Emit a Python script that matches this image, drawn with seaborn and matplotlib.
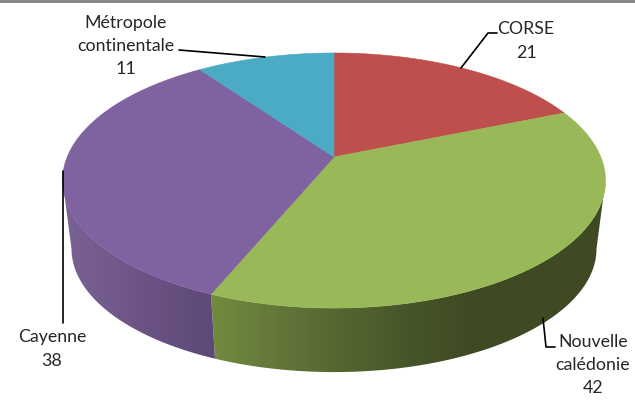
import numpy as np
import matplotlib
matplotlib.use("Agg")
import matplotlib.pyplot as plt
from matplotlib.patches import Polygon
import seaborn as sns

categories = ["CORSE", "Nouvelle\ncalédonie", "Cayenne", "Métropole\ncontinentale"]
values = [21, 42, 38, 11]
colors = ["#BF4F4C", "#99B958", "#7F62A0", "#4BABC5"]

# wall shading, left to right across the picture (back slices show no wall)
wall_colors = [
    [],
    ["#718b3e", "#63773a", "#55652f", "#47552a", "#3f4a23", "#3f4a23", "#3f4a23"],
    ["#7a6295", "#5e4877"],
    [],
]

label_pos = [(526, 41), (593, 365), (52, 349), (126, 46)]
leaders = [
    ([461, 488, 497], [68, 33, 33]),
    ([543, 546, 555], [318, 347, 347]),
    ([63, 63], [171, 323]),
    ([179, 265], [50, 57]),
]

sns.set_theme(style="white")
plt.rcParams["font.family"] = ["Lato", "DejaVu Sans"]

TILT = 0.1844


# tilted disc with perspective, the far side looks smaller than the near side
def project(theta, lower=False):
    u, v = np.cos(theta), np.sin(theta)
    w = 1 + TILT * v
    scale = 0.967 if lower else 1.0
    apex_y = 226 if lower else 157
    return 334 + scale * 266.8 * u / w, apex_y - scale * 123.2 * v / w


fig = plt.figure(figsize=(6.35, 4), dpi=100)
ax = fig.add_axes([0, 0, 1, 1])

# the pie only gives the angles, the wedges are then redrawn in perspective
wedges, texts = ax.pie(values, startangle=90, counterclock=False)
angles = [(w.theta1, w.theta2) for w in wedges]
for artist in wedges + texts:
    artist.remove()
ax.set_aspect("auto")

# the wall is only visible between the two outermost points of the disc
front_right = -np.degrees(np.arcsin(TILT))
front_left = -180 - front_right

for (t1, t2), shades in zip(angles, wall_colors):
    if not shades:
        continue
    theta = np.radians(np.linspace(max(t1, front_left), min(t2, front_right), 300))
    tx, ty = project(theta)
    bx, by = project(theta, lower=True)

    wall = Polygon(
        np.column_stack([np.r_[tx, bx[::-1]], np.r_[ty, by[::-1]]]),
        closed=True, facecolor="none", edgecolor="none",
    )
    ax.add_patch(wall)
    left, right = min(tx.min(), bx.min()), max(tx.max(), bx.max())
    cmap = sns.blend_palette(shades, as_cmap=True)
    im = ax.imshow(
        np.linspace(0, 1, 256).reshape(1, -1),
        extent=(left, right, 400, 0),
        cmap=cmap, aspect="auto", zorder=1,
    )
    im.set_clip_path(wall)

for (t1, t2), color in zip(angles, colors):
    theta = np.radians(np.linspace(t1, t2, 300))
    tx, ty = project(theta)
    ax.add_patch(Polygon(
        np.column_stack([np.r_[334, tx], np.r_[157, ty]]),
        closed=True, facecolor=color, edgecolor=color, linewidth=0.4, zorder=2,
    ))

for (lx, ly) in leaders:
    ax.plot(lx, ly, color="black", linewidth=1.2, zorder=3)

for name, value, (x, y) in zip(categories, values, label_pos):
    ax.text(x, y, f"{name}\n{value}", ha="center", va="center", fontsize=12.8,
            color="#262626", linespacing=1.55, zorder=4)

# grey rule along the top edge of the screenshot
ax.axhline(1, color="#808080", linewidth=2, zorder=5)

ax.set_xlim(0, 635)
ax.set_ylim(400, 0)
ax.axis("off")

plt.savefig("out.png", dpi=100)
plt.close()
